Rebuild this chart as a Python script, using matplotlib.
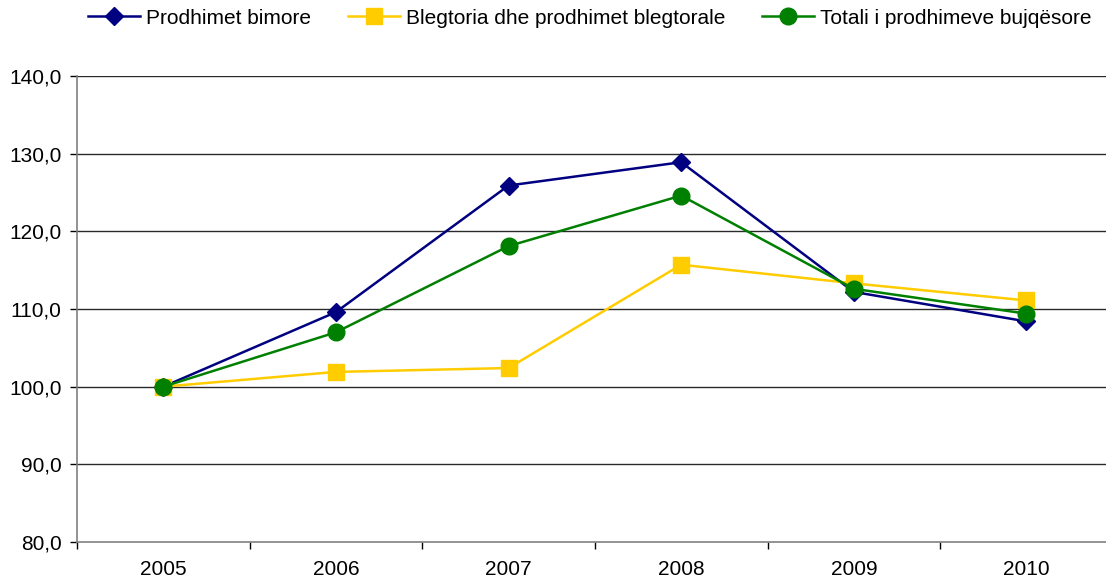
import matplotlib
matplotlib.use("Agg")
import matplotlib.pyplot as plt
from matplotlib.ticker import FixedLocator, FuncFormatter

years = ["2005", "2006", "2007", "2008", "2009", "2010"]
bimore = [100.0, 109.6, 125.9, 128.9, 112.2, 108.4]
blegtoria = [100.0, 101.9, 102.4, 115.7, 113.3, 111.1]
totali = [100.0, 107.0, 118.1, 124.6, 112.6, 109.4]

names = ["Prodhimet bimore", "Blegtoria dhe prodhimet blegtorale", "Totali i prodhimeve bujqësore"]
colors = ["#000080", "#FFCC00", "#008000"]
markers = ["D", "s", "o"]
msizes = [9.5, 12, 12]

plt.rcParams['font.family'] = ['Liberation Sans', 'DejaVu Sans']
plt.rcParams['font.size'] = 15

fig = plt.figure(figsize=(11.06, 5.82), dpi=100)
W, H = 1106, 582
ax = fig.add_axes([77 / W, 1 - 542 / H, (1112.75 - 77) / W, (542 - 76) / H])

x = list(range(len(years)))
handles = []
for vals, name, c, m, ms in zip([bimore, blegtoria, totali], names, colors, markers, msizes):
    h, = ax.plot(x, vals, color=c, marker=m, markersize=ms, linewidth=1.8,
                 markeredgecolor=c, label=name, zorder=3)
    handles.append(h)

ax.set_xlim(-0.5, len(years) - 0.5)
ax.set_ylim(80, 140)
ax.set_yticks([80, 90, 100, 110, 120, 130, 140])
ax.yaxis.set_major_formatter(FuncFormatter(lambda v, p: f"{v:.1f}".replace(".", ",")))
ax.set_xticks(x)
ax.set_xticklabels(years)
ax.xaxis.set_minor_locator(FixedLocator([i - 0.5 for i in range(len(years) + 1)]))
ax.tick_params(axis='x', which='major', length=0, pad=13)
ax.tick_params(axis='x', which='minor', length=5, width=1, color='#000000', direction='out')
ax.tick_params(axis='y', length=5, width=1, color='#000000', direction='out', pad=6)

for v in [90, 100, 110, 120, 130, 140]:
    ax.axhline(v, color='#2a2a2a', linewidth=1.0, zorder=1)

for s in ['top', 'right']:
    ax.spines[s].set_visible(False)
ax.spines['left'].set_color('#808080')
ax.spines['bottom'].set_color('#808080')
ax.spines['left'].set_linewidth(1.2)
ax.spines['bottom'].set_linewidth(1.2)

fig.legend(handles=handles, labels=names, loc='center left', bbox_to_anchor=(88 / W, 1 - 18 / H),
           ncol=3, frameon=False, handlelength=2.5, handletextpad=0.3, columnspacing=1.75,
           borderaxespad=0, borderpad=0)

fig.savefig("out.png", dpi=100)
